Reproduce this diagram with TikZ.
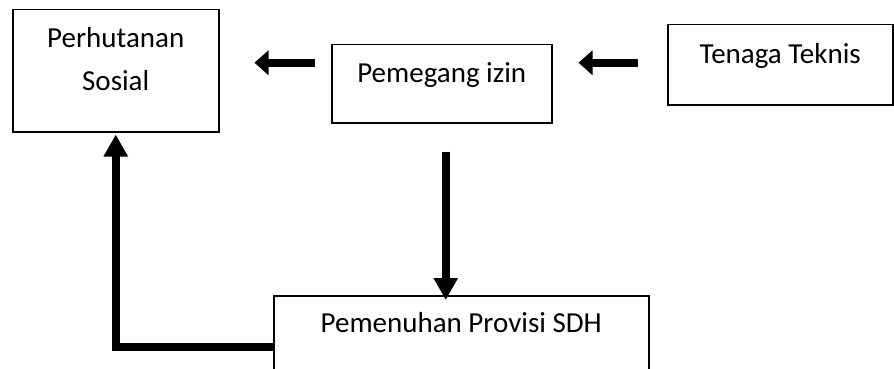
\documentclass[tikz,border=0pt]{standalone}
\usepackage{fontspec}
\setmainfont{Carlito}
\usetikzlibrary{arrows.meta,positioning}

\begin{document}
\begin{tikzpicture}[
  x=1pt, y=-1pt,
  box/.style={rectangle, draw, line width=1.5pt, inner sep=0pt, align=center,
    anchor=north west, font=\fontsize{29}{43}\selectfont},
  fat/.style={draw, line width=8pt},
  hhead/.style={-{Triangle[length=14pt,width=24pt]}},
  vhead/.style={-{Triangle[length=22pt,width=23pt]}}
]
\useasboundingbox (0,0) rectangle (894,369);

\node[box, minimum width=206pt, text height=81pt, text depth=41pt] (sosial) at (12,9) {Perhutanan\\Sosial};
\node[box, minimum width=220pt, text height=38pt, text depth=40pt] (izin) at (331,44) {Pemegang izin};
\node[box, minimum width=225pt, text height=39pt, text depth=41pt] (tenaga) at (667,24) {Tenaga Teknis};
\node[box, minimum width=375pt, text height=37pt, text depth=100pt] (provisi) at (273,295) {Pemenuhan Provisi SDH};

\path[fat, hhead, shorten <=16pt, shorten >=35pt] ([yshift=21pt]izin.west) -- ([yshift=21pt]izin.west -| sosial.east);
\path[fat, hhead, shorten <=29pt, shorten >=26pt] ([yshift=21pt]izin.east -| tenaga.west) -- ([yshift=21pt]izin.east);
\path[fat, vhead, shorten <=28pt, shorten >=-5pt] ([xshift=4pt]izin.south) -- ([xshift=4pt]izin.south |- provisi.north);
\path[fat, vhead, shorten >=2pt] ([yshift=-52pt]provisi.north west) -| (sosial.south);

\end{tikzpicture}
\end{document}
